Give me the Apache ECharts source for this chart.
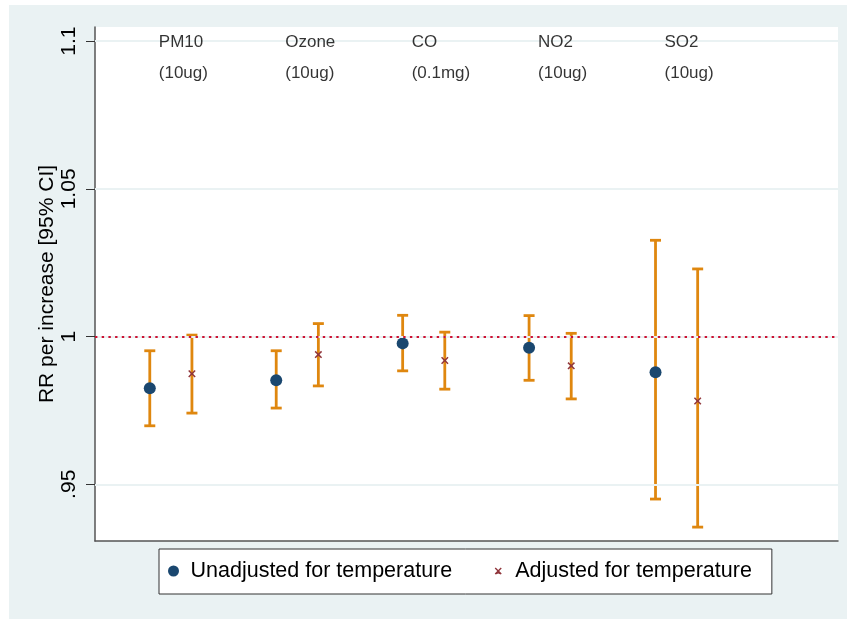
<!DOCTYPE html>
<html><head><meta charset="utf-8">
<script src="https://cdn.jsdelivr.net/npm/echarts@6/dist/echarts.min.js"></script>
<style>
html,body{margin:0;padding:0;background:#fff;}
#bg{position:absolute;left:9px;top:5px;width:838px;height:614px;background:#EAF2F3;}
#c{position:absolute;left:0;top:0;width:847px;height:619px;}
</style>
</head><body><div id="bg"></div><div id="c"></div>
<script>
// ---- data ----
const pollutants = ['PM10', 'Ozone', 'CO', 'NO2', 'SO2'];
const units = ['(10ug)', '(10ug)', '(0.1mg)', '(10ug)', '(10ug)'];
const xUnadj = [1, 4, 7, 10, 13];
const xAdj = [2, 5, 8, 11, 14];
const unadjEst = [0.9825, 0.9852, 0.9977, 0.9962, 0.9879];
const unadjLo  = [0.9698, 0.9758, 0.9884, 0.9852, 0.9450];
const unadjHi  = [0.9952, 0.9952, 1.0072, 1.0071, 1.0326];
const adjEst = [0.9874, 0.9939, 0.9919, 0.9901, 0.9782];
const adjLo  = [0.9741, 0.9833, 0.9822, 0.9789, 0.9355];
const adjHi  = [1.0005, 1.0044, 1.0015, 1.0011, 1.0229];
const yTicks = [0.95, 1, 1.05, 1.1];
const yTickLabels = ['.95', '1', '1.05', '1.1'];
const refLine = 1;
const labelRow1Y = 1.0995;
const labelRow2Y = 1.089;

// ---- build ----
const ORANGE = '#DF870F';
const xSym = 'path://M0,1.4L1.4,0L5,3.6L8.6,0L10,1.4L6.4,5L10,8.6L8.6,10L5,6.4L1.4,10L0,8.6L3.6,5Z';
const xLegend = 'path://M0,0L0.01,0L0,0.01Z M24,11L23.99,11L24,10.99Z M8.5,2.98L9.48,2L12,4.52L14.52,2L15.5,2.98L12.98,5.5L15.5,8.02L14.52,9L12,7.98L9.48,9L8.5,8.02L11.02,5.5Z';
const Y_MIN = 0.9308, Y_MAX = 1.1048;

const errData = [];
for (let i = 0; i < xUnadj.length; i++) {
  errData.push([xUnadj[i], unadjLo[i], unadjHi[i]]);
  errData.push([xAdj[i], adjLo[i], adjHi[i]]);
}
const labelData1 = pollutants.map((p, i) => [xUnadj[i], labelRow1Y, p]);
const labelData2 = units.map((u, i) => [xUnadj[i], labelRow2Y, u]);

const chart = echarts.init(document.getElementById('c'), null, {renderer: 'canvas'});
const FONT = 'Liberation Sans, Arial, Helvetica, sans-serif';

const labelSeries = (data) => ({
  type: 'scatter', data: data, symbolSize: 0, silent: true, z: 5,
  label: {
    show: true, position: 'right', distance: 9,
    formatter: p => p.value[2], fontSize: 17, color: '#000', fontFamily: FONT
  }
});

chart.setOption({
  animation: false,
  textStyle: {fontFamily: FONT},
  grid: {left: 95, right: 9, top: 27, bottom: 78, show: true, backgroundColor: '#fff', borderWidth: 0},
  xAxis: {
    type: 'value', min: -0.3, max: 17.33,
    axisLine: {show: true, onZero: false, lineStyle: {color: '#555', width: 1.5}},
    axisTick: {show: false}, axisLabel: {show: false}, splitLine: {show: false}
  },
  yAxis: [{
    type: 'value', min: Y_MIN, max: Y_MAX,
    axisLine: {show: true, onZero: false, lineStyle: {color: '#555', width: 1.5}},
    axisTick: {show: true, customValues: yTicks, length: 9, lineStyle: {color: '#333', width: 1}},
    axisLabel: {
      show: true, customValues: yTicks, rotate: 90, margin: 15, fontSize: 21, color: '#000', fontFamily: FONT,
      formatter: v => { const k = yTicks.findIndex(t => Math.abs(t - v) < 1e-9); return k >= 0 ? yTickLabels[k] : ''; }
    },
    splitLine: {show: false}
  }, {
    type: 'value', min: Y_MIN, max: Y_MAX, position: 'left', offset: 0,
    name: 'RR per increase [95% CI]', nameLocation: 'middle', nameRotate: 90, nameGap: 37,
    nameTextStyle: {fontSize: 21, color: '#000', fontFamily: FONT},
    axisLine: {show: false, onZero: false}, axisTick: {show: false}, axisLabel: {show: false},
    splitLine: {show: false}
  }],
  legend: {
    left: 159, top: 549, orient: 'horizontal',
    padding: [11, 20, 12, 9], borderColor: '#333', borderWidth: 1, backgroundColor: '#fff',
    itemWidth: 24, itemHeight: 11, itemGap: 34,
    textStyle: {fontSize: 21.5, color: '#000', fontFamily: FONT},
    data: [
      {name: 'Unadjusted for temperature', icon: 'circle'},
      {name: 'Adjusted for temperature', icon: xLegend}
    ]
  },
  series: [
    {
      type: 'line', data: [], z: 1, silent: true,
      markLine: {
        silent: true, symbol: 'none', label: {show: false}, animation: false,
        lineStyle: {color: '#EAF2F3', width: 2, type: 'solid'},
        data: yTicks.map(v => ({yAxis: v}))
      }
    },
    {
      type: 'custom', z: 2, silent: true,
      data: errData,
      encode: {x: 0, y: [1, 2]},
      renderItem: (params, api) => {
        const x = api.value(0);
        const p1 = api.coord([x, api.value(1)]);
        const p2 = api.coord([x, api.value(2)]);
        const hw = 5.5;
        const st = {stroke: ORANGE, lineWidth: 2.8};
        return {type: 'group', children: [
          {type: 'line', shape: {x1: p1[0], y1: p1[1], x2: p2[0], y2: p2[1]}, style: st},
          {type: 'line', shape: {x1: p1[0] - hw, y1: p1[1], x2: p1[0] + hw, y2: p1[1]}, style: st},
          {type: 'line', shape: {x1: p2[0] - hw, y1: p2[1], x2: p2[0] + hw, y2: p2[1]}, style: st}
        ]};
      }
    },
    {
      type: 'line', data: [], z: 3, silent: true,
      markLine: {
        silent: true, symbol: 'none', label: {show: false}, animation: false,
        lineStyle: {color: '#CC1233', width: 2, type: [2.4, 4.3]},
        data: [{yAxis: refLine}]
      }
    },
    {
      name: 'Unadjusted for temperature', type: 'scatter', z: 4,
      symbol: 'circle', symbolSize: 12,
      itemStyle: {color: '#1A476F', opacity: 1},
      data: xUnadj.map((x, i) => [x, unadjEst[i]])
    },
    {
      name: 'Adjusted for temperature', type: 'scatter', z: 4,
      symbol: xSym, symbolSize: 7.5,
      itemStyle: {color: '#90353B', opacity: 1},
      data: xAdj.map((x, i) => [x, adjEst[i]])
    },
    labelSeries(labelData1),
    labelSeries(labelData2)
  ]
});
</script>
</body></html>
